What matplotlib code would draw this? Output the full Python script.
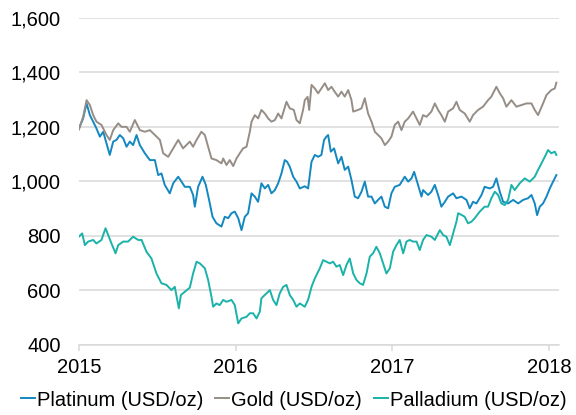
import matplotlib
matplotlib.use("Agg")
import matplotlib.pyplot as plt
from matplotlib.ticker import FuncFormatter

plt.rcParams['font.family'] = ['Liberation Sans', 'DejaVu Sans']

# Time in decimal years, prices in USD/oz
platinum_t = [2015.000, 2015.027, 2015.049, 2015.070, 2015.091, 2015.112, 2015.134, 2015.155, 2015.176, 2015.197,
              2015.219, 2015.240, 2015.261, 2015.283, 2015.304, 2015.325, 2015.346, 2015.368, 2015.389, 2015.421,
              2015.453, 2015.485, 2015.506, 2015.527, 2015.548, 2015.580, 2015.602, 2015.634, 2015.655, 2015.676,
              2015.708, 2015.729, 2015.740, 2015.761, 2015.789, 2015.810, 2015.831, 2015.853, 2015.878, 2015.910,
              2015.931, 2015.953, 2015.974, 2015.995, 2016.017, 2016.038, 2016.059, 2016.080, 2016.102, 2016.123,
              2016.144, 2016.165, 2016.187, 2016.208, 2016.229, 2016.251, 2016.272, 2016.293, 2016.314, 2016.329,
              2016.346, 2016.368, 2016.389, 2016.410, 2016.442, 2016.463, 2016.485, 2016.506, 2016.527, 2016.548,
              2016.565, 2016.580, 2016.591, 2016.608, 2016.629, 2016.655, 2016.676, 2016.697, 2016.719, 2016.740,
              2016.761, 2016.782, 2016.804, 2016.825, 2016.846, 2016.868, 2016.889, 2016.910, 2016.931, 2016.953,
              2016.974, 2016.995, 2017.016, 2017.048, 2017.080, 2017.102, 2017.123, 2017.140, 2017.165, 2017.187,
              2017.197, 2017.229, 2017.250, 2017.272, 2017.293, 2017.314, 2017.336, 2017.357, 2017.389, 2017.410,
              2017.442, 2017.474, 2017.495, 2017.516, 2017.538, 2017.570, 2017.590, 2017.622, 2017.644, 2017.665,
              2017.687, 2017.708, 2017.740, 2017.772, 2017.804, 2017.836, 2017.867, 2017.889, 2017.910, 2017.925,
              2017.942, 2017.963, 2017.985, 2018.006, 2018.027, 2018.048]
platinum = [1194, 1231, 1286, 1243, 1219, 1194, 1164, 1182, 1139, 1097,
            1146, 1152, 1170, 1158, 1127, 1146, 1133, 1170, 1133, 1103,
            1078, 1078, 1023, 1029, 987, 956, 993, 1017, 999, 980,
            980, 950, 907, 980, 1017, 987, 932, 870, 846, 834,
            870, 865, 883, 889, 865, 821, 870, 883, 956, 944,
            925, 993, 974, 987, 956, 968, 993, 1029, 1078, 1072,
            1054, 1017, 999, 974, 982, 974, 1072, 1097, 1090, 1097,
            1152, 1164, 1170, 1109, 1121, 1066, 1090, 1042, 1054, 1005,
            944, 938, 962, 999, 944, 944, 919, 932, 944, 907,
            901, 956, 980, 987, 1017, 999, 1011, 1035, 987, 944,
            968, 950, 962, 987, 950, 907, 925, 944, 956, 938,
            944, 932, 901, 925, 919, 950, 980, 974, 980, 1011,
            962, 925, 919, 932, 919, 932, 938, 950, 919, 876,
            907, 919, 944, 974, 999, 1023]

gold_t = [2015.000, 2015.027, 2015.049, 2015.070, 2015.091, 2015.112, 2015.144, 2015.176, 2015.197, 2015.219,
          2015.251, 2015.272, 2015.304, 2015.325, 2015.357, 2015.389, 2015.421, 2015.453, 2015.485, 2015.517,
          2015.538, 2015.570, 2015.602, 2015.634, 2015.665, 2015.708, 2015.729, 2015.751, 2015.782, 2015.804,
          2015.825, 2015.846, 2015.878, 2015.910, 2015.921, 2015.942, 2015.963, 2015.985, 2016.006, 2016.027,
          2016.048, 2016.070, 2016.091, 2016.102, 2016.123, 2016.144, 2016.165, 2016.187, 2016.208, 2016.229,
          2016.251, 2016.272, 2016.293, 2016.325, 2016.346, 2016.372, 2016.389, 2016.410, 2016.431, 2016.442,
          2016.460, 2016.470, 2016.485, 2016.506, 2016.527, 2016.548, 2016.570, 2016.591, 2016.612, 2016.633,
          2016.655, 2016.676, 2016.697, 2016.719, 2016.740, 2016.751, 2016.782, 2016.804, 2016.825, 2016.846,
          2016.868, 2016.889, 2016.910, 2016.931, 2016.953, 2016.974, 2016.995, 2017.016, 2017.038, 2017.059,
          2017.080, 2017.102, 2017.133, 2017.155, 2017.176, 2017.197, 2017.219, 2017.250, 2017.272, 2017.293,
          2017.314, 2017.336, 2017.357, 2017.389, 2017.410, 2017.431, 2017.463, 2017.495, 2017.516, 2017.548,
          2017.580, 2017.612, 2017.633, 2017.665, 2017.687, 2017.708, 2017.729, 2017.761, 2017.793, 2017.825,
          2017.857, 2017.889, 2017.910, 2017.931, 2017.963, 2017.985, 2018.016, 2018.038, 2018.048]
gold = [1190, 1237, 1298, 1280, 1243, 1219, 1207, 1170, 1152, 1188,
        1213, 1200, 1200, 1182, 1225, 1188, 1182, 1188, 1170, 1152,
        1103, 1090, 1121, 1152, 1121, 1146, 1127, 1152, 1182, 1170,
        1127, 1084, 1078, 1066, 1084, 1060, 1078, 1056, 1084, 1103,
        1121, 1127, 1182, 1219, 1243, 1231, 1262, 1249, 1231, 1219,
        1225, 1249, 1231, 1292, 1268, 1262, 1225, 1213, 1262, 1298,
        1310, 1262, 1354, 1341, 1323, 1341, 1360, 1335, 1347, 1329,
        1311, 1329, 1311, 1335, 1298, 1256, 1262, 1268, 1305, 1249,
        1219, 1182, 1170, 1158, 1133, 1146, 1164, 1207, 1219, 1188,
        1219, 1231, 1256, 1231, 1207, 1243, 1237, 1256, 1286, 1262,
        1243, 1219, 1256, 1268, 1292, 1262, 1249, 1219, 1243, 1262,
        1274, 1298, 1311, 1347, 1323, 1305, 1274, 1298, 1274, 1280,
        1286, 1286, 1262, 1243, 1286, 1317, 1335, 1341, 1362]

palladium_t = [2015.000, 2015.021, 2015.038, 2015.059, 2015.091, 2015.112, 2015.144, 2015.170, 2015.187, 2015.208,
               2015.234, 2015.251, 2015.283, 2015.314, 2015.346, 2015.378, 2015.400, 2015.431, 2015.463, 2015.495,
               2015.527, 2015.559, 2015.591, 2015.612, 2015.638, 2015.651, 2015.676, 2015.708, 2015.729, 2015.751,
               2015.772, 2015.804, 2015.825, 2015.846, 2015.857, 2015.878, 2015.899, 2015.921, 2015.942, 2015.974,
               2015.995, 2016.017, 2016.038, 2016.070, 2016.091, 2016.112, 2016.134, 2016.155, 2016.165, 2016.197,
               2016.219, 2016.240, 2016.261, 2016.282, 2016.304, 2016.325, 2016.346, 2016.368, 2016.389, 2016.410,
               2016.442, 2016.463, 2016.485, 2016.506, 2016.538, 2016.559, 2016.580, 2016.602, 2016.623, 2016.644,
               2016.665, 2016.687, 2016.708, 2016.729, 2016.751, 2016.772, 2016.793, 2016.814, 2016.836, 2016.857,
               2016.878, 2016.899, 2016.921, 2016.942, 2016.963, 2016.985, 2017.006, 2017.027, 2017.048, 2017.070,
               2017.091, 2017.112, 2017.133, 2017.155, 2017.176, 2017.197, 2017.219, 2017.250, 2017.272, 2017.304,
               2017.325, 2017.346, 2017.368, 2017.389, 2017.410, 2017.421, 2017.442, 2017.463, 2017.484, 2017.506,
               2017.527, 2017.559, 2017.590, 2017.612, 2017.633, 2017.655, 2017.676, 2017.697, 2017.719, 2017.740,
               2017.761, 2017.782, 2017.814, 2017.846, 2017.878, 2017.910, 2017.931, 2017.953, 2017.974, 2017.995,
               2018.016, 2018.038, 2018.048]
palladium = [797, 809, 766, 779, 785, 772, 785, 828, 803, 772,
             736, 766, 779, 779, 797, 785, 785, 742, 717, 662,
             626, 620, 601, 613, 534, 583, 595, 610, 662, 705,
             699, 681, 638, 577, 540, 552, 546, 565, 558, 565,
             546, 479, 497, 503, 516, 516, 497, 522, 571, 589,
             601, 565, 546, 589, 613, 620, 583, 565, 540, 552,
             540, 565, 613, 644, 681, 711, 705, 699, 705, 687,
             693, 656, 693, 717, 662, 638, 626, 620, 662, 724,
             736, 760, 736, 699, 662, 681, 742, 766, 785, 736,
             779, 785, 779, 779, 748, 785, 803, 797, 785, 821,
             803, 797, 766, 809, 852, 883, 877, 870, 846, 852,
             865, 889, 907, 907, 938, 962, 950, 919, 913, 932,
             987, 968, 993, 1011, 999, 1017, 1042, 1066, 1090, 1115,
             1103, 1109, 1097]

year_ticks = [2015, 2016, 2017, 2018]
year_labels = ["2015", "2016", "2017", "2018"]
price_ticks = [400, 600, 800, 1000, 1200, 1400, 1600]

fig = plt.figure(figsize=(5.76, 4.15), dpi=100)
ax = fig.add_axes([0.137, 0.169, 0.833, 0.788])

ax.plot(platinum_t, platinum, color="#1388c0", lw=1.4, label="Platinum (USD/oz)")
ax.plot(gold_t, gold, color="#968e86", lw=1.4, label="Gold (USD/oz)")
ax.plot(palladium_t, palladium, color="#1bb2a9", lw=1.4, label="Palladium (USD/oz)")

ax.set_xlim(2015, 2018.063)
ax.set_ylim(400, 1600)
ax.set_xticks(year_ticks)
ax.set_xticklabels(year_labels)
ax.set_yticks(price_ticks)
ax.yaxis.set_major_formatter(FuncFormatter(lambda v, p: f"{v:,.0f}"))

ax.grid(axis="y", color="#d9d9d9", lw=1.1)
ax.set_axisbelow(True)
for s in ["top", "right", "left"]:
    ax.spines[s].set_visible(False)
ax.spines["bottom"].set_color("#d9d9d9")
ax.spines["bottom"].set_linewidth(1.1)
ax.tick_params(axis="y", length=0, pad=13, labelsize=14.5)
ax.tick_params(axis="x", length=4.5, color="#d9d9d9", width=1.1, pad=5, labelsize=14.5)

fig.legend(loc="center", bbox_to_anchor=(0.51, 1 - 400 / 415), ncol=3, frameon=False, fontsize=14.5,
           handlelength=0.7, handletextpad=0.1, columnspacing=0.6, borderaxespad=0)

fig.savefig("out.png", dpi=100)
